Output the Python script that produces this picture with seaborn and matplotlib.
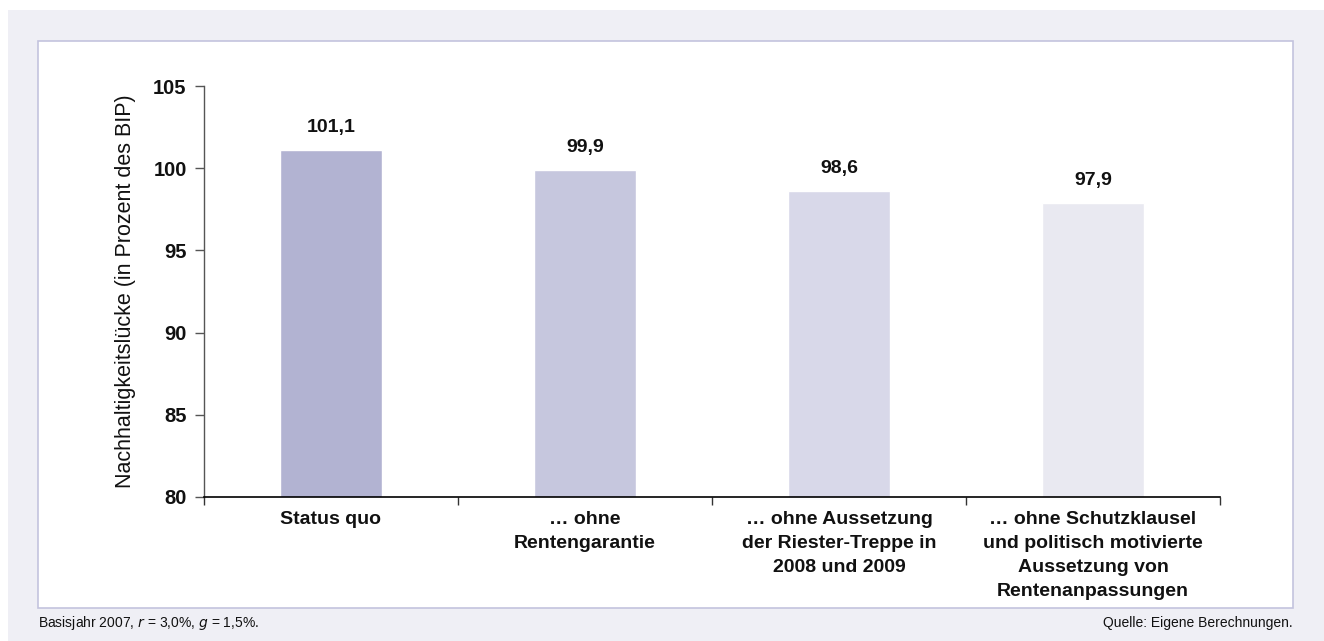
import matplotlib
matplotlib.use("Agg")
import matplotlib.pyplot as plt
import matplotlib.patches as mpatches
import seaborn as sns
import pandas as pd

# Daten
kategorien = ['Status quo',
              '… ohne\nRentengarantie',
              '… ohne Aussetzung\nder Riester-Treppe in\n2008 und 2009',
              '… ohne Schutzklausel\nund politisch motivierte\nAussetzung von\nRentenanpassungen']
werte = [101.1, 99.9, 98.6, 97.9]
wert_labels = ['101,1', '99,9', '98,6', '97,9']
y_ticks = [80, 85, 90, 95, 100, 105]
farben = ['#b2b3d2', '#c6c7de', '#d8d8e9', '#e9e9f1']

sns.set_style('white')
plt.rcParams['font.family'] = ['Liberation Sans', 'DejaVu Sans']
plt.rcParams['text.color'] = '#111111'
plt.rcParams['axes.labelcolor'] = '#111111'
plt.rcParams['xtick.color'] = '#111111'
plt.rcParams['ytick.color'] = '#111111'

df = pd.DataFrame({'kat': kategorien, 'wert': werte})

W, H = 1324, 641
fig = plt.figure(figsize=(W / 100, H / 100), dpi=100)
fig.patch.set_facecolor('white')

# Hintergrund und Rahmen
fig.patches.append(mpatches.Rectangle((8 / W, 0), 1 - 8 / W, 1 - 10 / H, transform=fig.transFigure,
                                      facecolor='#efeff5', edgecolor='none', zorder=-3))
fig.patches.append(mpatches.Rectangle((38 / W, 1 - 608 / H), (1293 - 38) / W, (608 - 41) / H,
                                      transform=fig.transFigure, facecolor='white',
                                      edgecolor='#c3c3de', linewidth=1.2, zorder=-2))

ax = fig.add_axes([204 / W, 1 - 497 / H, (1220 - 204) / W, (497 - 86) / H])
ax.set_facecolor('none')

sns.barplot(data=df, x='kat', y='wert', hue='kat', palette=farben, width=0.4,
            legend=False, ax=ax, saturation=1)

ax.set_ylim(80, 105)
ax.set_xlim(-0.5, 3.5)
ax.set_yticks(y_ticks)
ax.set_yticklabels([str(t) for t in y_ticks], fontsize=14.5, fontweight='bold')
ax.set_xticks(range(4))
ax.set_xticklabels(kategorien, fontsize=14, fontweight='bold', linespacing=1.55, va='top')
ax.set_xticks([-0.5, 0.5, 1.5, 2.5, 3.5], minor=True)
ax.tick_params(axis='x', which='major', length=0, pad=10, bottom=True)
ax.tick_params(axis='x', which='minor', length=6, width=1, color='#333333', direction='out', bottom=True)
ax.tick_params(axis='y', length=6.5, width=1, color='#555555', direction='out', pad=6, left=True)

for s in ['top', 'right']:
    ax.spines[s].set_visible(False)
ax.spines['left'].set_color('#555555')
ax.spines['bottom'].set_color('black')
ax.spines['left'].set_linewidth(1)
ax.spines['bottom'].set_linewidth(1.2)

ax.set_xlabel('')
ax.set_ylabel('Nachhaltigkeitslücke (in Prozent des BIP)', fontsize=15.5, labelpad=12)

for i, (v, t) in enumerate(zip(werte, wert_labels)):
    ax.annotate(t, (i, v), xytext=(0, 13), textcoords='offset points',
                ha='center', va='baseline', fontsize=14, fontweight='bold')

fig.text(38 / W, 1 - 623 / H, 'Basisjahr 2007, $r$ = 3,0%, $g$ = 1,5%.', fontsize=10,
         va='center', ha='left')
fig.text(1293 / W, 1 - 623 / H, 'Quelle: Eigene Berechnungen.', fontsize=10,
         va='center', ha='right')

fig.savefig('out.png', dpi=100, facecolor=fig.get_facecolor())
